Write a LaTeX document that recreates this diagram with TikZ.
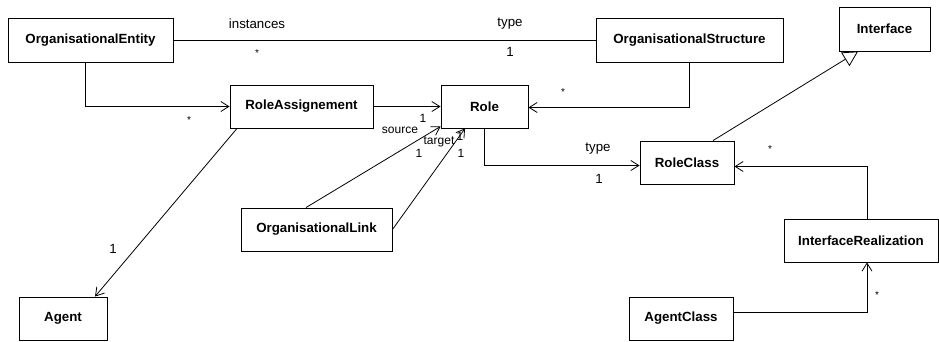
\documentclass[tikz,border=0pt]{standalone}
\usepackage{fontspec}
\setmainfont{Liberation Sans}
\usetikzlibrary{arrows.meta}
\begin{document}
\begin{tikzpicture}[x=1pt,y=-1pt,
  cls/.style={draw, line width=0.9pt, rectangle, inner sep=0pt, font=\fontsize{13.3}{15}\selectfont\bfseries},
  assoc/.style={draw, line width=0.8pt, -{Straight Barb[length=8pt,width=10pt,line width=0.8pt]}},
  plain/.style={draw, line width=0.8pt},
  gen/.style={draw, line width=0.8pt, -{Triangle[open,length=15pt,width=16pt,fill=white,line width=0.8pt]}},
  lbl/.style={inner sep=0pt, font=\fontsize{13.3}{15}\selectfont},
  small/.style={inner sep=0pt, font=\fontsize{12}{14}\selectfont},
  star/.style={inner sep=0pt, font=\fontsize{10}{11}\selectfont}
]
\useasboundingbox (0,0) rectangle (939,341);
\fill[white] (0,0) rectangle (939,341);

\node[cls, minimum width=165pt, minimum height=44pt] (OE) at (90.5,40) {OrganisationalEntity};
\node[cls, minimum width=187pt, minimum height=44pt] (OS) at (689.5,40) {OrganisationalStructure};
\node[cls, minimum width=91pt, minimum height=44pt] (IF) at (884.5,29) {Interface};
\node[cls, minimum width=143pt, minimum height=43pt] (RA) at (301.5,106.5) {RoleAssignement};
\node[cls, minimum width=87pt, minimum height=43pt] (Role) at (484.5,106.5) {Role};
\node[cls, minimum width=94pt, minimum height=43pt] (RC) at (687,162.5) {RoleClass};
\node[cls, minimum width=151pt, minimum height=43pt] (OL) at (316.5,229.5) {OrganisationalLink};
\node[cls, minimum width=154pt, minimum height=43pt] (IR) at (861,240.5) {InterfaceRealization};
\node[cls, minimum width=88pt, minimum height=43pt] (AG) at (63,318.5) {Agent};
\node[cls, minimum width=104pt, minimum height=43pt] (AC) at (681,318.5) {AgentClass};

% connectors
\draw[plain] (OE.east) -- (OS.west);
\draw[assoc] ([xshift=-5.5pt]OE.south) |- (RA.west);
\draw[assoc] (RA.east) -- (Role.west);
\draw[assoc] (OS.south) |- ([yshift=-1pt]Role.east);
\draw[assoc] (Role.south) |- ([yshift=-3pt]RC.west);
\draw[gen] ([xshift=26pt]RC.north) -- ([xshift=-26.5pt]IF.south);
\draw[assoc] ([xshift=6pt]IR.north) |- ([yshift=-4pt]RC.east);
\draw[assoc] ([yshift=6.5pt]AC.east) -| ([xshift=6pt]IR.south);
\draw[assoc] ([xshift=-64.5pt]RA.south) -- ([xshift=32pt]AG.north);
\draw[assoc] ([xshift=-10.5pt]OL.north) -- ([yshift=2pt]Role.south west);
\draw[assoc] (OL.east) -- ([xshift=-19.5pt]Role.south);

% labels
\node[lbl] (l1) at (257,24) {instances};
\node[star] (s1) at (257,53) {*};
\node[lbl] (l2) at (510,24) {type};
\node[lbl] (l3) at (510,52) {1};
\node[star] (s2) at (189,120) {*};
\node[star] (s3) at (563,92) {*};
\node[lbl] (l4) at (598,149) {type};
\node[lbl] (l5) at (599,179) {1};
\node[star] (s4) at (770,149) {*};
\node[star] (s5) at (877,295) {*};
\node[lbl] (l6) at (113,249) {1};
\node[small] (l7) at (423,118) {1};
\node[small] (l8) at (400,130) {source};
\node[small] (l9) at (439,142) {target};
\node[small] (l10) at (460,136) {1};
\node[small] (l11) at (419,153) {1};
\node[small] (l12) at (461,153) {1};
\end{tikzpicture}
\end{document}
